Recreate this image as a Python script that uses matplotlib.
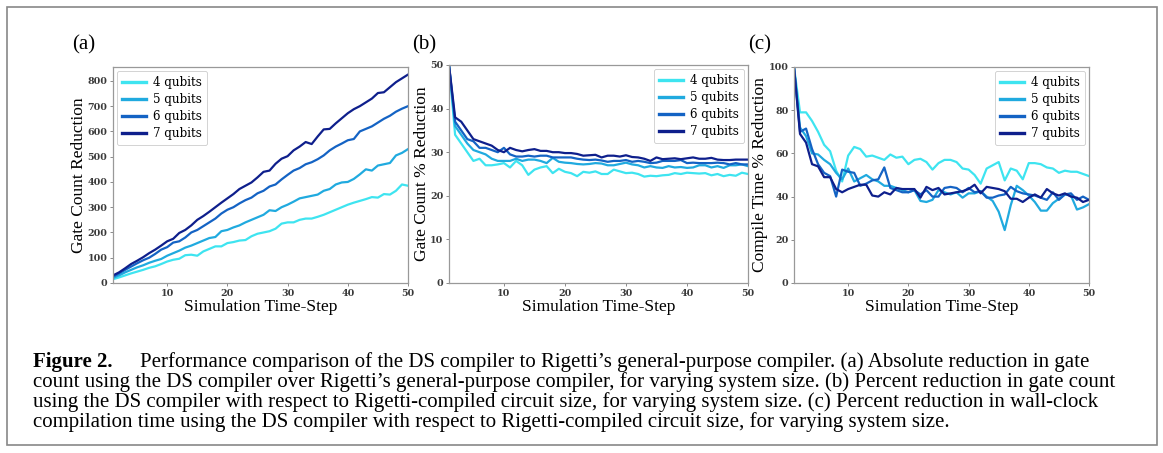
import numpy as np
import matplotlib
matplotlib.use("Agg")
import matplotlib.pyplot as plt
from matplotlib.patches import Rectangle

# time steps 1..50
steps = list(range(1, 51))
labels = ["4 qubits", "5 qubits", "6 qubits", "7 qubits"]
colors = ["#3ee4f0", "#20aadf", "#1463c4", "#0e1f8c"]

# (a) absolute gate count reduction
gate_4q = [15, 22, 30, 38, 45, 52, 60, 66, 75, 85, 92, 96, 110, 112, 108, 125, 135, 145, 145, 158,
           162, 168, 170, 185, 195, 200, 205, 215, 235, 240, 240, 250, 255, 255, 262, 270, 280, 290, 300, 310,
           318, 325, 332, 340, 338, 352, 350, 365, 390, 385]
gate_5q = [20, 30, 42, 52, 62, 70, 80, 88, 95, 108, 118, 128, 140, 148, 158, 168, 178, 182, 205, 210,
           220, 228, 240, 250, 260, 270, 288, 285, 300, 310, 322, 335, 340, 345, 350, 365, 372, 390, 398, 400,
           412, 430, 450, 445, 465, 470, 475, 505, 515, 530]
gate_6q = [25, 38, 52, 65, 78, 90, 100, 115, 132, 142, 160, 165, 180, 200, 210, 225, 240, 255, 275, 290,
           300, 315, 328, 338, 355, 365, 382, 390, 410, 428, 445, 455, 470, 478, 490, 505, 525, 540, 552, 565,
           570, 600, 610, 620, 635, 650, 662, 678, 690, 700]
gate_7q = [30, 42, 58, 75, 88, 102, 118, 132, 148, 165, 175, 198, 210, 228, 250, 265, 282, 300, 318, 335,
           352, 372, 385, 398, 418, 440, 445, 472, 492, 502, 525, 540, 558, 550, 580, 608, 610, 632, 652, 672,
           688, 700, 715, 730, 752, 755, 775, 795, 810, 825]

# (b) gate count % reduction
pct_4q = [50, 34, 32, 30, 28, 28.5, 27, 27, 27.2, 27.5, 26.5, 28, 27, 24.8, 26, 26.5, 26.8, 25.2, 26.2, 25.5,
          25.2, 24.5, 25.5, 25.3, 25.6, 25, 25, 26, 25.6, 25.2, 25.3, 25, 24.4, 24.6, 24.5, 24.7, 24.8, 25.2, 25, 25.3,
          25.2, 25.1, 25.2, 24.7, 25, 24.5, 24.8, 24.6, 25.3, 25]
pct_5q = [50, 36, 34, 32, 30.5, 30, 29.5, 28.5, 28, 28, 28, 28.5, 28, 28.3, 28.3, 28, 27.5, 28.7, 27.8, 27.6,
          27.5, 27.3, 27.2, 27.3, 27.5, 27.4, 27, 27, 27.3, 27.6, 27.2, 27, 26.5, 26.8, 26.5, 26.4, 26.8, 26.5, 26.6, 26.4,
          26.5, 27, 27, 26.5, 26.8, 26.4, 27, 27, 27.2, 26.8]
pct_6q = [50, 37, 35, 33, 32.5, 31, 31, 30.5, 30, 31, 29.5, 29, 29, 29.2, 29, 29.2, 29.2, 28.8, 28.8, 28.8,
          28.8, 28.5, 28.3, 28.2, 28.3, 28.1, 27.8, 28, 28, 28.2, 27.8, 28, 27.8, 27.5, 27.6, 28, 28, 28, 28.2, 27.5,
          27.6, 27.5, 27.5, 27.5, 27.6, 27.5, 27.2, 27.5, 27.2, 27.2]
pct_7q = [50, 38, 37, 35, 33, 32.5, 32, 31.5, 30.5, 30, 31, 30.5, 30.2, 30.5, 30.7, 30.3, 30.3, 30, 30, 29.8,
          29.8, 29.6, 29.2, 29.3, 29.4, 28.8, 29.2, 29.2, 29, 29.3, 28.9, 28.8, 28.5, 28, 28.8, 28.4, 28.5, 28.6, 28.4, 28.6,
          28.8, 28.5, 28.5, 28.7, 28.3, 28.2, 28.2, 28.3, 28.3, 28.3]

# (c) compile time % reduction
time_4q = [100, 79, 79, 75, 70, 64, 61, 52, 47, 59, 63, 62, 58.5, 59, 58, 57, 59.5, 58, 58.5, 55,
           57, 57.5, 56, 52.5, 55.5, 57, 57, 56, 53, 52.5, 50, 46, 53, 54.5, 56, 47.5, 53, 52, 48, 55.5,
           55.5, 55, 53.5, 53, 51, 52, 51.5, 51.5, 50.5, 49.5]
time_5q = [100, 72, 68, 60, 59.5, 57, 55, 51, 48, 53, 47, 48.5, 50, 48, 47, 45, 45, 44, 43, 42,
           43, 38, 37.5, 38.5, 43, 42, 41, 42, 39.5, 41.5, 41.5, 42.5, 40, 38, 33, 24.5, 36, 45, 43, 40.5,
           37.5, 33.5, 33.5, 37, 39, 41, 40.5, 34, 35, 36.5]
time_6q = [100, 70, 71.5, 62, 55, 51, 49.5, 40, 52.5, 51.5, 51, 45, 46, 47.5, 48, 53.5, 44, 43, 42, 42,
           43, 41, 43, 40, 40, 44, 44.5, 44, 42, 44, 42, 42.5, 39.5, 39.5, 40.5, 41, 44.5, 42.5, 41.5, 41,
           40.5, 39.5, 38.5, 42, 38.5, 41, 41.5, 38.5, 40, 38.5]
time_7q = [100, 69, 65, 55, 54, 49, 49, 43.5, 42, 43.5, 44.5, 45.5, 45.5, 40.5, 40, 42, 41, 44, 43.5, 43.5,
           43.5, 39.5, 44.5, 43, 44, 41, 41.5, 42, 42.5, 43.5, 45.5, 41.5, 44.5, 44, 43.5, 42.5, 39, 39, 37.5, 39.5,
           41, 39.5, 43.5, 41.5, 40.5, 41.5, 40, 39.5, 37.5, 38.5]

caption = [
    "Performance comparison of the DS compiler to Rigetti\u2019s general-purpose compiler. (a) Absolute reduction in gate",
    "count using the DS compiler over Rigetti\u2019s general-purpose compiler, for varying system size. (b) Percent reduction in gate count",
    "using the DS compiler with respect to Rigetti-compiled circuit size, for varying system size. (c) Percent reduction in wall-clock",
    "compilation time using the DS compiler with respect to Rigetti-compiled circuit size, for varying system size.",
]

W, H = 1163, 453
fig = plt.figure(figsize=(W / 100, H / 100), dpi=100)
fig.patch.set_facecolor("white")

# outer frame
fig.patches.append(Rectangle((7 / W, 1 - 445 / H), 1150 / W, 438 / H, transform=fig.transFigure,
                             fill=False, edgecolor="#888888", linewidth=1.2))

serif = "Liberation Serif"
panels = [
    ("(a)", [gate_4q, gate_5q, gate_6q, gate_7q], "Gate Count Reduction", (0, 855), range(0, 801, 100),
     [113, 408, 67], "upper left", 72),
    ("(b)", [pct_4q, pct_5q, pct_6q, pct_7q], "Gate Count % Reduction", (0, 50), range(0, 51, 10),
     [449, 748, 65], "upper right", 412),
    ("(c)", [time_4q, time_5q, time_6q, time_7q], "Compile Time % Reduction", (0, 100), range(0, 101, 20),
     [794, 1089, 67], "upper right", 748),
]

for tag, series, ylab, ylim, yticks, (x0, x1, top), loc, tagx in panels:
    ax = fig.add_axes([x0 / W, 1 - 283 / H, (x1 - x0) / W, (283 - top) / H])
    for ys, lab, c in zip(series, labels, colors):
        ax.plot(steps, ys, color=c, lw=1.6, label=lab)
    ax.set_xlim(1, 50)
    ax.set_ylim(*ylim)
    ax.set_xticks([10, 20, 30, 40, 50])
    ax.set_yticks(list(yticks))
    for s in ax.spines.values():
        s.set_color("#999999")
        s.set_linewidth(0.9)
    ax.tick_params(axis="both", length=2, width=0.6, color="#777777", pad=2, labelcolor="#3a3a3a")
    for t in ax.get_xticklabels() + ax.get_yticklabels():
        t.set_fontfamily("DejaVu Serif")
        t.set_fontweight("bold")
        t.set_fontsize(6.8)
    ax.set_xlabel("Simulation Time-Step", fontfamily=serif, fontsize=12.5, labelpad=1)
    ax.set_ylabel(ylab, fontfamily=serif, fontsize=12.5, labelpad=0.5)
    leg = ax.legend(loc=loc, prop={"family": "DejaVu Serif", "size": 8.6}, handlelength=2.0,
                    borderpad=0.45, labelspacing=0.33, handletextpad=0.6, fancybox=True,
                    framealpha=1, borderaxespad=0.3)
    leg.get_frame().set_edgecolor("#cccccc")
    leg.get_frame().set_linewidth(0.6)
    for ln in leg.get_lines():
        ln.set_linewidth(2.4)
    fig.text(tagx / W, 1 - 45 / H, tag, fontfamily=serif, fontsize=15, ha="left", va="center")

# caption
cap_size = 15
fig.text(33 / W, 1 - 362 / H, "Figure 2.", fontfamily=serif, fontsize=cap_size, fontweight="bold",
         ha="left", va="center")
fig.text(140 / W, 1 - 362 / H, caption[0], fontfamily=serif, fontsize=cap_size, ha="left", va="center")
for i, line in enumerate(caption[1:]):
    fig.text(33 / W, 1 - (382 + 20 * i) / H, line, fontfamily=serif, fontsize=cap_size,
             ha="left", va="center")

fig.savefig("out.png", dpi=100, facecolor="white")
